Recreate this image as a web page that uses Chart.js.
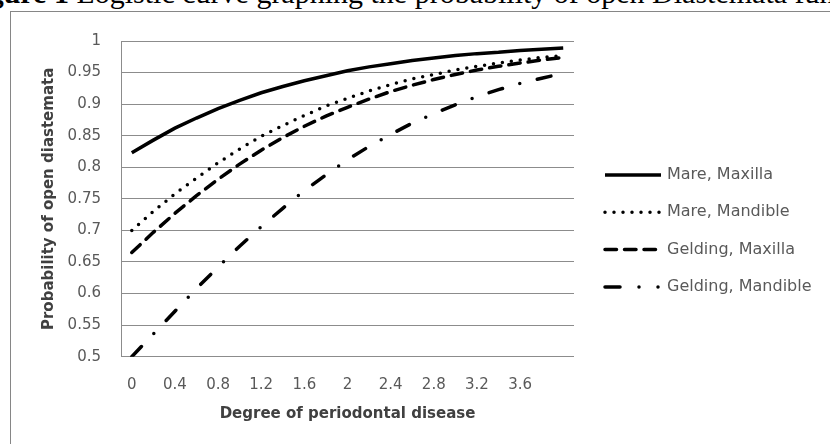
<!DOCTYPE html>
<html>
<head>
<meta charset="utf-8">
<script src="https://cdn.jsdelivr.net/npm/chart.js@4.4.1/dist/chart.umd.min.js"></script>
<style>
  html, body { margin: 0; padding: 0; background: #fff; overflow: hidden; }
  body { width: 830px; height: 444px; position: relative; }
  .caption { position: absolute; left: -38px; top: -22px; font: 30px/30px "Liberation Serif", serif; white-space: nowrap; color: #000; }
  .frame { position: absolute; left: 10px; top: 11px; width: 840px; height: 450px; border: 1px solid #868686; }
  #chart { position: absolute; left: 0; top: 0; }
</style>
</head>
<body>
<div class="caption"><b>Figure 1</b> Logistic curve graphing the probability of open Diastemata function</div>
<div class="frame"><canvas id="chart" width="819" height="432"></canvas></div>
<script>
const xCategories = ['0', '0.2', '0.4', '0.6', '0.8', '1', '1.2', '1.4', '1.6', '1.8', '2',
                     '2.2', '2.4', '2.6', '2.8', '3', '3.2', '3.4', '3.6', '3.8', '4'];
const yTicks = [0.5, 0.55, 0.6, 0.65, 0.7, 0.75, 0.8, 0.85, 0.9, 0.95, 1];

const mareMaxilla = [0.823, 0.843, 0.862, 0.878, 0.893, 0.906, 0.918, 0.928, 0.937, 0.945, 0.953,
                     0.959, 0.964, 0.969, 0.973, 0.977, 0.980, 0.982, 0.985, 0.987, 0.989];
const mareMandible = [0.700, 0.730, 0.758, 0.783, 0.807, 0.829, 0.849, 0.866, 0.882, 0.897, 0.909,
                      0.921, 0.931, 0.940, 0.947, 0.954, 0.960, 0.965, 0.970, 0.974, 0.977];
const geldingMaxilla = [0.665, 0.697, 0.727, 0.755, 0.781, 0.805, 0.827, 0.847, 0.865, 0.881, 0.895,
                        0.908, 0.920, 0.930, 0.939, 0.947, 0.954, 0.960, 0.965, 0.970, 0.974];
const geldingMandible = [0.500, 0.536, 0.572, 0.608, 0.642, 0.675, 0.706, 0.735, 0.763, 0.788, 0.812,
                         0.833, 0.852, 0.870, 0.885, 0.899, 0.912, 0.923, 0.933, 0.941, 0.949];

const textColor = '#595959';
const titleColor = '#404040';
const gridColor = '#8c8c8c';

// legend on the right, drawn by hand so the line samples keep their dash patterns
const sideLegend = {
  id: 'sideLegend',
  afterDraw(chart) {
    const ctx = chart.ctx;
    const x0 = 594, y0 = 163, gap = 37.3;
    chart.data.datasets.forEach((ds, i) => {
      const y = y0 + i * gap;
      ctx.save();
      ctx.strokeStyle = ds.borderColor;
      ctx.lineWidth = ds.borderWidth;
      ctx.lineCap = ds.borderCapStyle || 'butt';
      ctx.setLineDash(ds.legendDash || ds.borderDash || []);
      ctx.beginPath();
      ctx.moveTo(x0, y);
      ctx.lineTo(x0 + 56, y);
      ctx.stroke();
      ctx.restore();
      ctx.fillStyle = textColor;
      ctx.font = '16px "DejaVu Sans"';
      ctx.textBaseline = 'middle';
      ctx.fillText(ds.label, x0 + 62, y);
    });
  }
};

const ctx = document.getElementById('chart').getContext('2d');

new Chart(ctx, {
  type: 'line',
  data: {
    labels: xCategories,
    datasets: [
      { label: 'Mare, Maxilla', data: mareMaxilla, borderColor: '#000', borderWidth: 3.5,
        borderDash: [], borderCapStyle: 'butt' },
      { label: 'Mare, Mandible', data: mareMandible, borderColor: '#000', borderWidth: 3.5,
        borderDash: [0, 9], borderCapStyle: 'round' },
      { label: 'Gelding, Maxilla', data: geldingMaxilla, borderColor: '#000', borderWidth: 3.5,
        borderDash: [11.5, 8], borderCapStyle: 'round' },
      { label: 'Gelding, Mandible', data: geldingMandible, borderColor: '#000', borderWidth: 3.5,
        borderDash: [14, 18, 0, 18], borderCapStyle: 'round', legendDash: [15, 19, 0, 19, 0, 40] }
    ]
  },
  options: {
    responsive: false,
    animation: false,
    devicePixelRatio: 1,
    layout: { padding: { left: 0, top: 20.3, right: 256, bottom: 0 } },
    elements: { point: { radius: 0 }, line: { tension: 0, fill: false } },
    plugins: { legend: { display: false }, tooltip: { enabled: false } },
    scales: {
      x: {
        offset: true,
        afterFit: axis => { axis.height = 87.3; },
        grid: { display: false, drawTicks: false },
        border: { display: false },
        ticks: {
          autoSkip: false,
          maxRotation: 0,
          padding: 19,
          color: textColor,
          font: { family: 'DejaVu Sans', size: 15 },
          callback: (v, i) => (i % 2 === 0 && i < xCategories.length - 1) ? xCategories[i] : ''
        },
        title: {
          display: true,
          text: 'Degree of periodontal disease',
          color: titleColor,
          font: { family: 'DejaVu Sans', size: 15, weight: 'bold' },
          padding: { top: 0, bottom: 21 }
        }
      },
      y: {
        min: 0.5,
        max: 1,
        afterBuildTicks: axis => { axis.ticks = yTicks.map(v => ({ value: v })); },
        afterFit: axis => { axis.width = 110; },
        grid: { color: gridColor, drawTicks: false, lineWidth: 1 },
        border: { color: gridColor },
        ticks: {
          padding: 20,
          color: textColor,
          font: { family: 'DejaVu Sans', size: 15 },
          callback: v => String(v)
        },
        title: {
          display: true,
          text: 'Probability of open diastemata',
          color: titleColor,
          font: { family: 'DejaVu Sans', size: 15, weight: 'bold' },
          padding: { top: 29, bottom: 0 }
        }
      }
    }
  },
  plugins: [sideLegend]
});
</script>
</body>
</html>
